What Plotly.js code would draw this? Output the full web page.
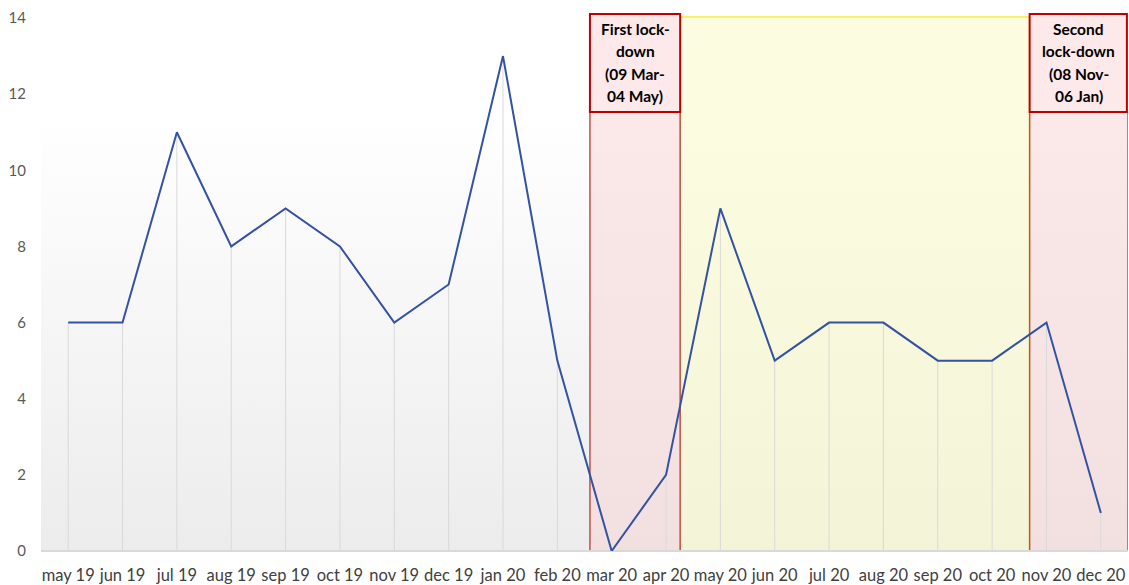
<!DOCTYPE html>
<html>
<head>
<meta charset="utf-8">
<script src="https://cdn.plot.ly/plotly-3.0.1.min.js"></script>
<style>html,body{margin:0;padding:0;background:#fff}#chart{width:1129px;height:585px}</style>
</head>
<body>
<div id="chart"></div>
<script>
const months = ["may 19","jun 19","jul 19","aug 19","sep 19","oct 19","nov 19","dec 19","jan 20","feb 20","mar 20","apr 20","may 20","jun 20","jul 20","aug 20","sep 20","oct 20","nov 20","dec 20"];
const counts = [6,6,11,8,9,8,6,7,13,5,0,2,9,5,6,6,5,5,6,1];
const yTicks = [0,2,4,6,8,10,12,14];
const label1 = ["First lock-","down","(09 Mar-","04 May)"];
const label2 = ["Second","lock-down","(08 Nov-","06 Jan)"];

const zeros = counts.map(() => 0);

const trace = {
  x: months, y: counts, type: 'scatter', mode: 'lines',
  line: {color: '#3452a2', width: 2},
  error_y: {type: 'data', symmetric: false, array: zeros, arrayminus: counts, color: '#d9d9d9', thickness: 1, width: 0},
  hoverinfo: 'x+y'
};

const gradSvg = '<svg xmlns="http://www.w3.org/2000/svg" width="10" height="100" preserveAspectRatio="none"><defs><linearGradient id="g" x1="0" y1="0" x2="0" y2="1"><stop offset="0" stop-color="#ffffff"/><stop offset="1" stop-color="#ececec"/></linearGradient></defs><rect width="10" height="100" fill="url(#g)"/></svg>';

const plotTop = 18, plotBot = 551, plotH = plotBot - plotTop;
const py = px => (plotBot - px) / plotH;

const shapes = [
  {type:'rect', xref:'x', yref:'paper', x0:11.26, x1:17.69, y0:0, y1:py(17), fillcolor:'rgba(250,250,200,0.55)', line:{color:'#f2ee3a', width:1.5}, layer:'below'},
  {type:'rect', xref:'x', yref:'paper', x0:9.6, x1:11.26, y0:0, y1:py(112), fillcolor:'rgba(248,215,215,0.55)', line:{color:'#c0504d', width:1.5}, layer:'below'},
  {type:'rect', xref:'x', yref:'paper', x0:17.69, x1:19.5, y0:0, y1:py(112), fillcolor:'rgba(248,215,215,0.55)', line:{color:'#c0504d', width:1.5}, layer:'below'},
  {type:'rect', xref:'x', yref:'paper', x0:9.6, x1:11.26, y0:py(112), y1:py(14), fillcolor:'#fde9e9', line:{color:'#c00000', width:2}, layer:'above'},
  {type:'rect', xref:'x', yref:'paper', x0:17.69, x1:19.48, y0:py(112), y1:py(14), fillcolor:'#fde9e9', line:{color:'#c00000', width:2}, layer:'above'}
];

const lineYs = [29, 51, 74, 96];
const annFont = {family:'Lato, "Open Sans", sans-serif', size:15.5, color:'#000'};
const annotations = [];
label1.forEach((t, i) => annotations.push({xref:'x', yref:'paper', x:(9.6+11.26)/2, y:py(lineYs[i]), text:'<b>'+t+'</b>', showarrow:false, font:annFont, xanchor:'center', yanchor:'middle'}));
label2.forEach((t, i) => annotations.push({xref:'x', yref:'paper', x:(17.69+19.5)/2, y:py(lineYs[i]), text:'<b>'+t+'</b>', showarrow:false, font:annFont, xanchor:'center', yanchor:'middle'}));

const layout = {
  width: 1129, height: 585,
  margin: {l: 41, r: 1, t: plotTop, b: 585 - plotBot},
  paper_bgcolor: '#ffffff', plot_bgcolor: 'rgba(0,0,0,0)',
  font: {family: 'Lato, "Open Sans", sans-serif', color: '#595959', size: 14},
  showlegend: false,
  xaxis: {type:'category', categoryorder:'array', categoryarray: months, range:[-0.5, 19.5], showgrid:false, zeroline:false, showline:false, ticks:'', tickfont:{size:16.5, color:'#404040'}, ticklabelstandoff: 12, fixedrange:true},
  yaxis: {range:[0,14], tickvals: yTicks, ticktext: yTicks.map(String), showgrid:false, zeroline:true, zerolinecolor:'#d9d9d9', zerolinewidth:1.5, showline:false, ticks:'', tickfont:{size:15, color:'#595959'}, ticklabelstandoff: 14, fixedrange:true},
  images: [{source: 'data:image/svg+xml;utf8,' + encodeURIComponent(gradSvg), xref:'paper', yref:'paper', x:0, y:py(110), sizex:1, sizey:py(110), xanchor:'left', yanchor:'top', sizing:'stretch', layer:'below'}],
  shapes: shapes,
  annotations: annotations
};

Plotly.newPlot('chart', [trace], layout, {displayModeBar:false, staticPlot:true});
</script>
</body>
</html>
